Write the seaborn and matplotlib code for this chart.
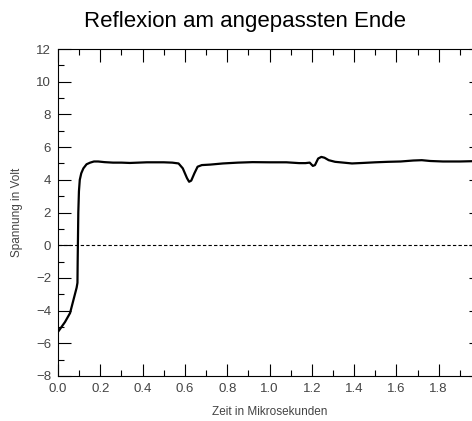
import numpy as np
import pandas as pd
import matplotlib
matplotlib.use("Agg")
import matplotlib.pyplot as plt
import seaborn as sns
from matplotlib.ticker import MultipleLocator, FuncFormatter

# data
t_us = [0.0, 0.033, 0.057, 0.076, 0.088, 0.092, 0.093, 0.094, 0.096, 0.099, 0.103,
        0.11, 0.12, 0.135, 0.152, 0.17, 0.19, 0.22, 0.26, 0.30, 0.34, 0.38, 0.42,
        0.46, 0.50, 0.54, 0.57, 0.59, 0.61, 0.62, 0.63, 0.645, 0.66, 0.68, 0.72,
        0.78, 0.85, 0.92, 1.00, 1.08, 1.14, 1.17, 1.19, 1.205, 1.215, 1.23, 1.245,
        1.26, 1.28, 1.31, 1.35, 1.39, 1.44, 1.50, 1.56, 1.62, 1.68, 1.72, 1.76,
        1.82, 1.90, 2.0]
volts = [-5.3, -4.7, -4.15, -3.2, -2.6, -2.3, -1.0, 0.0, 2.0, 3.3, 4.0,
         4.4, 4.7, 4.95, 5.05, 5.12, 5.12, 5.08, 5.05, 5.05, 5.03, 5.05, 5.07,
         5.07, 5.07, 5.05, 5.0, 4.7, 4.1, 3.88, 3.95, 4.4, 4.8, 4.9, 4.93,
         5.0, 5.05, 5.08, 5.07, 5.07, 5.02, 5.02, 5.05, 4.85, 4.9, 5.3, 5.4,
         5.35, 5.2, 5.1, 5.05, 5.0, 5.03, 5.07, 5.1, 5.12, 5.18, 5.2, 5.15,
         5.12, 5.12, 5.15]

title = "Reflexion am angepassten Ende"
xlabel = "Zeit in Mikrosekunden"
ylabel = "Spannung in Volt"

sns.set_style("ticks")
plt.rcParams['font.family'] = ['Liberation Sans', 'DejaVu Sans']

df = pd.DataFrame({"t": t_us, "v": volts})

fig = plt.figure(figsize=(4.72, 4.21), dpi=100)
ax = fig.add_axes([58/472, 45/421, 423/472, 327/421])

sns.lineplot(data=df, x="t", y="v", ax=ax, color="black", linewidth=1.6)
ax.axhline(0, color="black", linewidth=0.8, linestyle=(0, (3, 2)))

ax.set_xlim(0, 2.0)
ax.set_ylim(-8, 12)
ax.xaxis.set_major_locator(MultipleLocator(0.2))
ax.xaxis.set_minor_locator(MultipleLocator(0.1))
ax.yaxis.set_major_locator(MultipleLocator(2))
ax.yaxis.set_minor_locator(MultipleLocator(1))
ax.xaxis.set_major_formatter(FuncFormatter(lambda v, p: "" if v > 1.95 else f"{v:.1f}"))

grey = "#444444"
ax.tick_params(which='both', direction='in', top=True, right=True,
               colors='black', labelcolor=grey, labelsize=9.5, width=0.8)
ax.tick_params(which='major', length=9, pad=5)
ax.tick_params(which='minor', length=4.5)
for s in ax.spines.values():
    s.set_linewidth(0.8)
    s.set_color('black')

ax.set_xlabel(xlabel, fontsize=8.5, color=grey, labelpad=8)
ax.set_ylabel(ylabel, fontsize=8.5, color=grey, labelpad=9)
fig.text(245/472, 1 - 22/421, title, ha='center', va='center', fontsize=16, color='black')

fig.savefig("out.png", dpi=100)
